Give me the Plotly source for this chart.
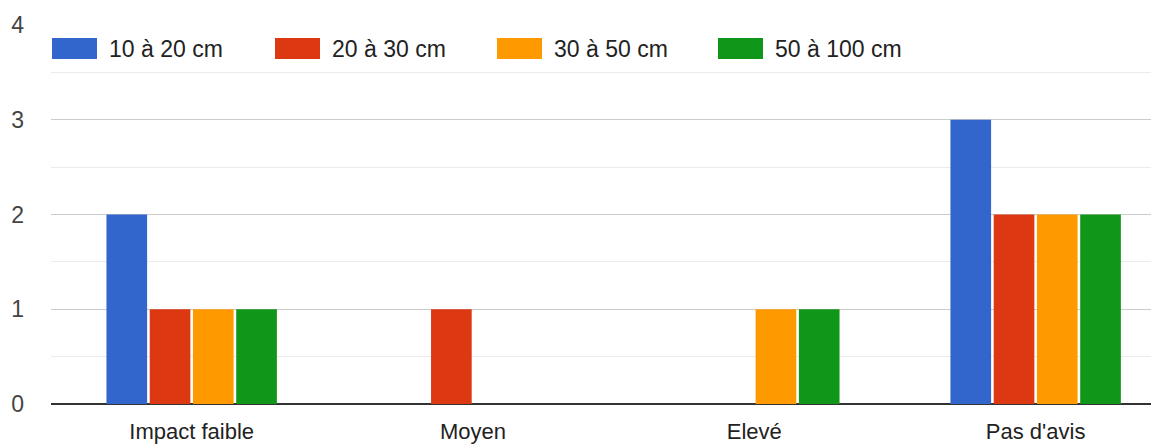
import plotly.graph_objects as go

categories = ["Impact faible", "Moyen", "Elevé", "Pas d'avis"]
series_names = ["10 à 20 cm", "20 à 30 cm", "30 à 50 cm", "50 à 100 cm"]
s_10_20 = [2, 0, 0, 3]
s_20_30 = [1, 1, 0, 2]
s_30_50 = [1, 0, 1, 2]
s_50_100 = [1, 0, 1, 2]
series_values = [s_10_20, s_20_30, s_30_50, s_50_100]
colors = ["#3366cc", "#dc3912", "#ff9900", "#109618"]
y_ticks = [0, 1, 2, 3, 4]

FONT = "Liberation Sans, Arial, sans-serif"

fig = go.Figure()
for name, vals, col in zip(series_names, series_values, colors):
    fig.add_trace(go.Bar(x=list(range(len(categories))), y=vals, name=name,
                         marker=dict(color=col, line=dict(width=0)),
                         showlegend=False))

# plot area in page pixels
W, L = 1100, 51
top, bottom = 25, 404
H = bottom - top
leg_x = [52, 275, 497, 718]
shapes = []
annotations = []
for i, (name, col) in enumerate(zip(series_names, colors)):
    x0 = leg_x[i]
    shapes.append(dict(type="rect", xref="paper", yref="paper",
                       x0=(x0 - L) / W, x1=(x0 + 45 - L) / W,
                       y0=(bottom - 59) / H, y1=(bottom - 38) / H,
                       fillcolor=col, line=dict(width=0)))
    annotations.append(dict(xref="paper", yref="paper",
                            x=(x0 + 55 - L) / W, y=(bottom - 48.5) / H,
                            xanchor="left", yanchor="middle", showarrow=False,
                            text=name, font=dict(family=FONT, size=23, color="#222222")))

fig.update_layout(
    width=1151, height=448,
    margin=dict(l=L, r=0, t=top, b=448 - bottom, pad=0),
    paper_bgcolor="white", plot_bgcolor="white",
    barmode="group", bargap=0.385, bargroupgap=0.06,
    shapes=shapes, annotations=annotations,
    font=dict(family=FONT, size=22, color="#222222"),
    xaxis=dict(tickmode="array", tickvals=list(range(len(categories))),
               ticktext=categories, range=[-0.5, 3.41], showgrid=False,
               ticks="", tickfont=dict(size=22, color="#222222"), zeroline=False,
               showline=False, automargin=False, ticklabelstandoff=12),
    yaxis=dict(range=[0, 4], tickvals=y_ticks, showgrid=True, gridcolor="#cccccc",
               gridwidth=1, zeroline=True, zerolinecolor="#333333", zerolinewidth=2,
               tickfont=dict(size=23, color="#444444"), ticks="",
               ticklabelstandoff=26, automargin=False,
               minor=dict(dtick=0.5, showgrid=True, gridcolor="#ebebeb", gridwidth=1)),
)

fig.write_html("out.html", config={"displayModeBar": False},
               post_script="document.body.style.margin='0';document.body.style.overflow='hidden';")
